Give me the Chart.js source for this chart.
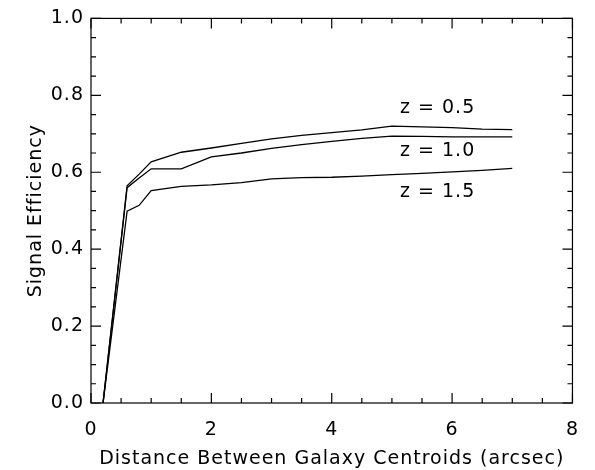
<!DOCTYPE html>
<html>
<head>
<meta charset="utf-8">
<script src="https://cdn.jsdelivr.net/npm/chart.js@4.4.1/dist/chart.umd.min.js"></script>
<style>
  html, body { margin: 0; padding: 0; background: #fff; }
</style>
</head>
<body>
<canvas id="efficiency" width="595" height="470"></canvas>
<script>
// distance between centroids (arcsec)
var distance = [0.2, 0.6, 0.8, 1.0, 1.5, 2.0, 2.5, 3.0, 3.5, 4.0, 4.5, 5.0, 5.5, 6.0, 6.5, 7.0];

// signal efficiency for each redshift
var effZ05 = [0, 0.565, 0.595, 0.627, 0.652, 0.663, 0.675, 0.687, 0.696, 0.703, 0.710, 0.720, 0.718, 0.716, 0.712, 0.711];
var effZ10 = [0, 0.560, 0.585, 0.609, 0.609, 0.640, 0.650, 0.662, 0.672, 0.680, 0.688, 0.694, 0.693, 0.692, 0.692, 0.692];
var effZ15 = [0, 0.499, 0.514, 0.552, 0.563, 0.567, 0.573, 0.583, 0.586, 0.587, 0.590, 0.594, 0.597, 0.601, 0.605, 0.610];

// curve labels and where they sit (data units)
var curveLabels = ['z = 0.5', 'z = 1.0', 'z = 1.5'];
var labelX = [5.76, 5.76, 5.76];
var labelY = [0.767, 0.656, 0.548];

function toPoints(ys) {
    return distance.map(function (x, i) { return { x: x, y: ys[i] }; });
}

var FONT = { family: 'DejaVu Sans', size: 19 };

// IDL style wide text
var spacing = {
    id: 'spacing',
    beforeUpdate: function (chart) { chart.ctx.letterSpacing = '1px'; },
    beforeDraw: function (chart) { chart.ctx.letterSpacing = '1px'; }
};

// box round the plot with inward ticks on all four sides
var frame = {
    id: 'frame',
    afterDraw: function (chart) {
        var ctx = chart.ctx, a = chart.chartArea;
        var xs = chart.scales.x, ys = chart.scales.y;
        ctx.save();
        ctx.strokeStyle = '#000';
        ctx.lineWidth = 1.2;
        ctx.strokeRect(a.left, a.top, a.right - a.left, a.bottom - a.top);
        ctx.beginPath();
        for (var i = 0; i <= 16; i++) {
            var px = xs.getPixelForValue(i * 0.5);
            var len = (i % 4 === 0) ? 10 : 5;
            ctx.moveTo(px, a.bottom); ctx.lineTo(px, a.bottom - len);
            ctx.moveTo(px, a.top); ctx.lineTo(px, a.top + len);
        }
        for (var j = 0; j <= 20; j++) {
            var py = ys.getPixelForValue(j * 0.05);
            var l2 = (j % 4 === 0) ? 10 : 5;
            ctx.moveTo(a.left, py); ctx.lineTo(a.left + l2, py);
            ctx.moveTo(a.right, py); ctx.lineTo(a.right - l2, py);
        }
        ctx.stroke();

        ctx.fillStyle = '#000';
        ctx.font = FONT.size + 'px "' + FONT.family + '"';
        ctx.textAlign = 'center';
        ctx.textBaseline = 'middle';
        curveLabels.forEach(function (t, k) {
            ctx.fillText(t, xs.getPixelForValue(labelX[k]), ys.getPixelForValue(labelY[k]));
        });
        ctx.restore();
    }
};

var lineStyle = { borderColor: '#000', borderWidth: 1.3, pointRadius: 0, tension: 0, fill: false };

var effChart = new Chart(document.getElementById('efficiency'), {
    type: 'line',
    data: {
        datasets: [
            Object.assign({ label: curveLabels[0], data: toPoints(effZ05) }, lineStyle),
            Object.assign({ label: curveLabels[1], data: toPoints(effZ10) }, lineStyle),
            Object.assign({ label: curveLabels[2], data: toPoints(effZ15) }, lineStyle)
        ]
    },
    options: {
        responsive: false,
        animation: false,
        layout: { padding: { top: 10, right: 19, left: 0, bottom: 0 } },
        plugins: {
            legend: { display: false },
            tooltip: { enabled: false }
        },
        scales: {
            x: {
                type: 'linear',
                min: 0,
                max: 8,
                grid: { display: false, drawTicks: false },
                border: { display: false },
                ticks: {
                    stepSize: 2,
                    padding: 16,
                    color: '#000',
                    font: FONT,
                    maxRotation: 0,
                    autoSkip: false
                },
                title: {
                    display: true,
                    text: 'Distance Between Galaxy Centroids (arcsec)',
                    color: '#000',
                    font: FONT,
                    padding: { top: 0, bottom: 0 }
                },
                afterFit: function (s) { s.height = 67; }
            },
            y: {
                min: 0,
                max: 1,
                grid: { display: false, drawTicks: false },
                border: { display: false },
                ticks: {
                    stepSize: 0.2,
                    padding: 7,
                    color: '#000',
                    font: FONT,
                    callback: function (v) { return v.toFixed(1); }
                },
                title: {
                    display: true,
                    text: 'Signal Efficiency',
                    color: '#000',
                    font: FONT,
                    padding: { top: 25, bottom: 0 }
                },
                afterFit: function (s) { s.width = 91; }
            }
        }
    },
    plugins: [spacing, frame]
});
</script>
</body>
</html>
